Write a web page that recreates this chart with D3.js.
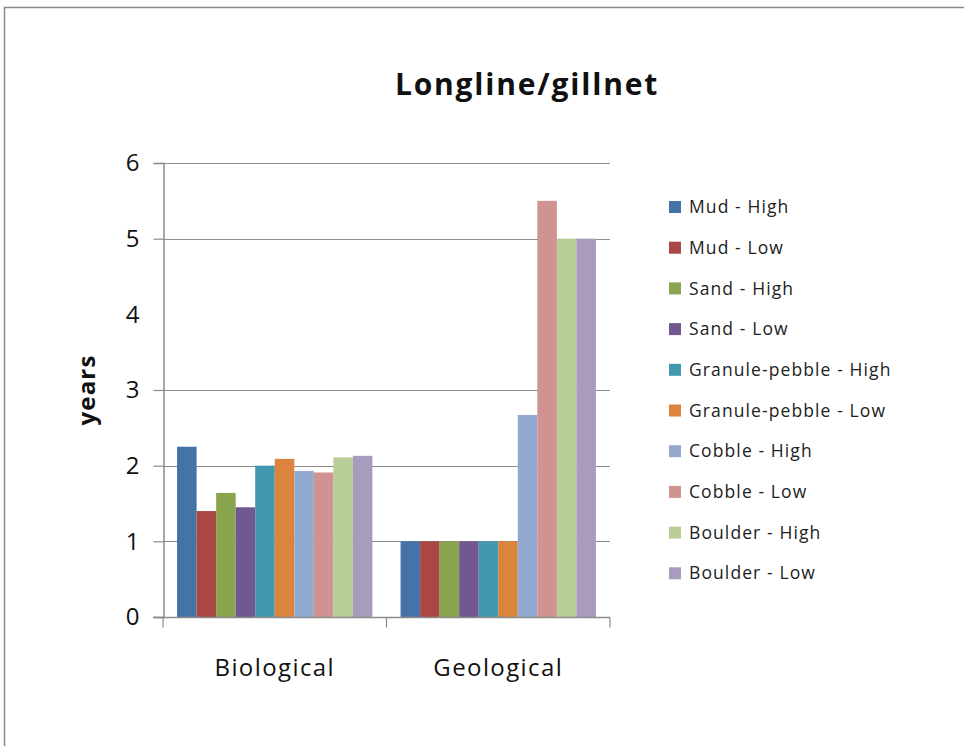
<!DOCTYPE html>
<html>
<head>
<meta charset="utf-8">
<script src="https://cdn.jsdelivr.net/npm/d3@7"></script>
<style>
  body { margin: 0; background: #fff; }
  svg { display: block; font-family: "Open Sans", "Liberation Sans", sans-serif; }
</style>
</head>
<body>
<div id="chart"></div>
<script>
// data
const categories = ["Biological", "Geological"];
const seriesNames = [
  "Mud - High", "Mud - Low", "Sand - High", "Sand - Low",
  "Granule-pebble - High", "Granule-pebble - Low",
  "Cobble - High", "Cobble - Low", "Boulder - High", "Boulder - Low"
];
const biologicalValues = [2.25, 1.40, 1.64, 1.45, 2.0, 2.09, 1.93, 1.91, 2.11, 2.13];
const geologicalValues = [1, 1, 1, 1, 1, 1, 2.67, 5.5, 5, 5];
const yTicks = [0, 1, 2, 3, 4, 5, 6];
const gridTicks = [1, 2, 3, 5, 6]; // no line drawn at 4 in the original

const colors = ["#4572A7", "#AA4643", "#89A54E", "#71588F", "#4198AF",
                "#DB843D", "#93A9CF", "#D19392", "#B9CD96", "#A99BBD"];

const width = 964, height = 746;
const margin = { left: 163, right: 354, top: 163, bottom: 129 };

const svg = d3.select("#chart").append("svg")
  .attr("width", width)
  .attr("height", height);

// outer frame (only top & left visible)
svg.append("path")
  .attr("d", "M4.5,760 L4.5,7.5 L980,7.5")
  .attr("fill", "none")
  .attr("stroke", "#8a8a8a")
  .attr("stroke-width", 1.5);

const x0 = d3.scaleBand()
  .domain(categories)
  .range([margin.left, width - margin.right])
  .paddingInner(0)
  .paddingOuter(0);

const x1 = d3.scaleBand()
  .domain(seriesNames)
  .range([0, x0.bandwidth()])
  .paddingOuter(0.72);

const y = d3.scaleLinear()
  .domain([0, 6])
  .range([height - margin.bottom, margin.top]);

// gridlines
svg.append("g")
  .selectAll("line")
  .data(gridTicks)
  .join("line")
  .attr("x1", margin.left)
  .attr("x2", width - margin.right)
  .attr("y1", d => Math.round(y(d)) + 0.5)
  .attr("y2", d => Math.round(y(d)) + 0.5)
  .attr("stroke", "#8c8c8c")
  .attr("stroke-width", 1);

// bars
const table = categories.map((c, i) => ({
  cat: c,
  values: i === 0 ? biologicalValues : geologicalValues
}));

svg.append("g")
  .selectAll("g")
  .data(table)
  .join("g")
  .attr("transform", d => `translate(${x0(d.cat)},0)`)
  .selectAll("rect")
  .data(d => d.values.map((v, i) => ({ name: seriesNames[i], value: v, i })))
  .join("rect")
  .attr("x", d => x1(d.name))
  .attr("width", x1.bandwidth())
  .attr("y", d => y(d.value))
  .attr("height", d => y(0) - y(d.value))
  .attr("fill", d => colors[d.i]);

// y axis
const yAxis = svg.append("g")
  .attr("transform", `translate(${margin.left + 0.5},0)`)
  .call(d3.axisLeft(y).tickValues(yTicks).tickSize(10).tickPadding(14).tickFormat(d3.format("d")));
yAxis.select(".domain").attr("stroke", "#8c8c8c").attr("stroke-width", 1.5);
yAxis.selectAll(".tick line").attr("stroke", "#8c8c8c").attr("stroke-width", 1.2);
yAxis.selectAll(".tick text")
  .attr("font-size", 24)
  .attr("fill", "#111")
  .style("font-family", "'Open Sans', sans-serif");
// no tick mark at 4 either
yAxis.selectAll(".tick").filter(d => d === 4).select("line").remove();

// x axis
const xAxisG = svg.append("g")
  .attr("transform", `translate(0,${y(0) + 0.5})`);
xAxisG.append("line")
  .attr("x1", margin.left - 10)
  .attr("x2", width - margin.right)
  .attr("stroke", "#8c8c8c")
  .attr("stroke-width", 1.5);
xAxisG.selectAll("line.tk")
  .data([margin.left, x0("Geological"), width - margin.right])
  .join("line")
  .attr("class", "tk")
  .attr("x1", d => d).attr("x2", d => d)
  .attr("y1", 0).attr("y2", 10)
  .attr("stroke", "#8c8c8c")
  .attr("stroke-width", 1.2);
xAxisG.selectAll("text")
  .data(categories)
  .join("text")
  .attr("x", d => x0(d) + x0.bandwidth() / 2)
  .attr("y", 58)
  .attr("text-anchor", "middle")
  .attr("font-size", 24)
  .attr("letter-spacing", 1.4)
  .attr("fill", "#111")
  .text(d => d);

// y label
svg.append("text")
  .attr("transform", `translate(95,${y(3)}) rotate(-90)`)
  .attr("text-anchor", "middle")
  .attr("font-size", 24)
  .attr("letter-spacing", 1.2)
  .attr("font-weight", "bold")
  .attr("fill", "#111")
  .text("years");

// title
svg.append("text")
  .attr("x", 527)
  .attr("y", 95)
  .attr("text-anchor", "middle")
  .attr("font-size", 30)
  .attr("letter-spacing", 1.8)
  .attr("font-weight", "bold")
  .attr("fill", "#111")
  .text("Longline/gillnet");

// legend
const legend = svg.append("g")
  .attr("transform", "translate(669,207)")
  .selectAll("g")
  .data(seriesNames)
  .join("g")
  .attr("transform", (d, i) => `translate(0,${i * 40.7})`);
legend.append("rect")
  .attr("x", 0).attr("y", -6)
  .attr("width", 12).attr("height", 12)
  .attr("fill", (d, i) => colors[i]);
legend.append("text")
  .attr("x", 20)
  .attr("y", 0)
  .attr("dy", "0.35em")
  .attr("font-size", 17.5)
  .attr("letter-spacing", 1.1)
  .attr("fill", "#222")
  .text(d => d);
</script>
</body>
</html>
